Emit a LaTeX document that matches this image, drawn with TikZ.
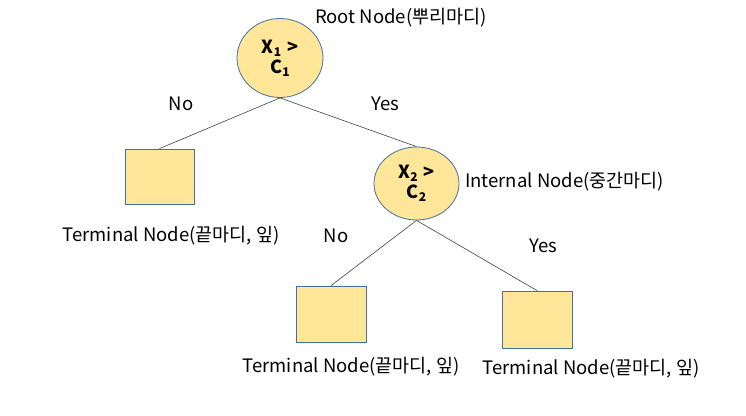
\documentclass[tikz,border=0pt]{standalone}
\usepackage{fontspec}
\setmainfont{Noto Sans CJK KR}
\usetikzlibrary{shapes.geometric}
\definecolor{nfill}{HTML}{FFE699}
\definecolor{nedge}{HTML}{41719C}
\definecolor{lnk}{HTML}{404040}
\newcommand{\subidx}[1]{{\fontsize{12}{12}\selectfont\raisebox{-3pt}{#1}}}
\tikzset{
  dec/.style={ellipse, draw=nedge, fill=nfill, line width=0.8pt, inner sep=0pt, font=\bfseries\fontsize{18}{20}\selectfont, align=center},
  leaf/.style={rectangle, draw=nedge, fill=nfill, line width=0.8pt, inner sep=0pt},
  lbl/.style={font=\fontsize{18.5}{21}\selectfont, inner sep=0pt},
  edge/.style={draw=lnk, line width=0.6pt},
}
\begin{document}
\begin{tikzpicture}[x=1pt,y=-1pt]
\useasboundingbox (0,0) rectangle (746,415);
\node[dec, minimum width=86pt, minimum height=79pt] (root) at (280,58) {X\subidx{1}\hspace{6pt}>\\C\subidx{1}};
\node[dec, minimum width=85pt, minimum height=73pt] (int) at (416.5,183.5) {X\subidx{2}\hspace{6pt}>\\C\subidx{2}};
\node[leaf, minimum width=69pt, minimum height=55pt] (t1) at (159.5,176.5) {};
\node[leaf, minimum width=70pt, minimum height=56pt] (t2) at (331,314) {};
\node[leaf, minimum width=70pt, minimum height=57pt] (t3) at (537,319.5) {};
\path[edge] (root.south) -- (t1.north);
\path[edge] (root.south) -- (int.north);
\path[edge] (int.south) -- (t2.north);
\path[edge] (int.south) -- (t3.north);
\node[lbl] (rootl) at (401,18) {Root Node(뿌리마디)};
\node[lbl] (intl) at (564.5,182) {Internal Node(중간마디)};
\node[lbl] (t1l) at (171,236) {Terminal Node(끝마디, 잎)};
\node[lbl] (t2l) at (351,367) {Terminal Node(끝마디, 잎)};
\node[lbl] (t3l) at (591,369) {Terminal Node(끝마디, 잎)};
\node[lbl] (no1) at (181,104) {No};
\node[lbl] (yes1) at (385,104) {Yes};
\node[lbl] (no2) at (336,236) {No};
\node[lbl] (yes2) at (543,246) {Yes};
\end{tikzpicture}
\end{document}
